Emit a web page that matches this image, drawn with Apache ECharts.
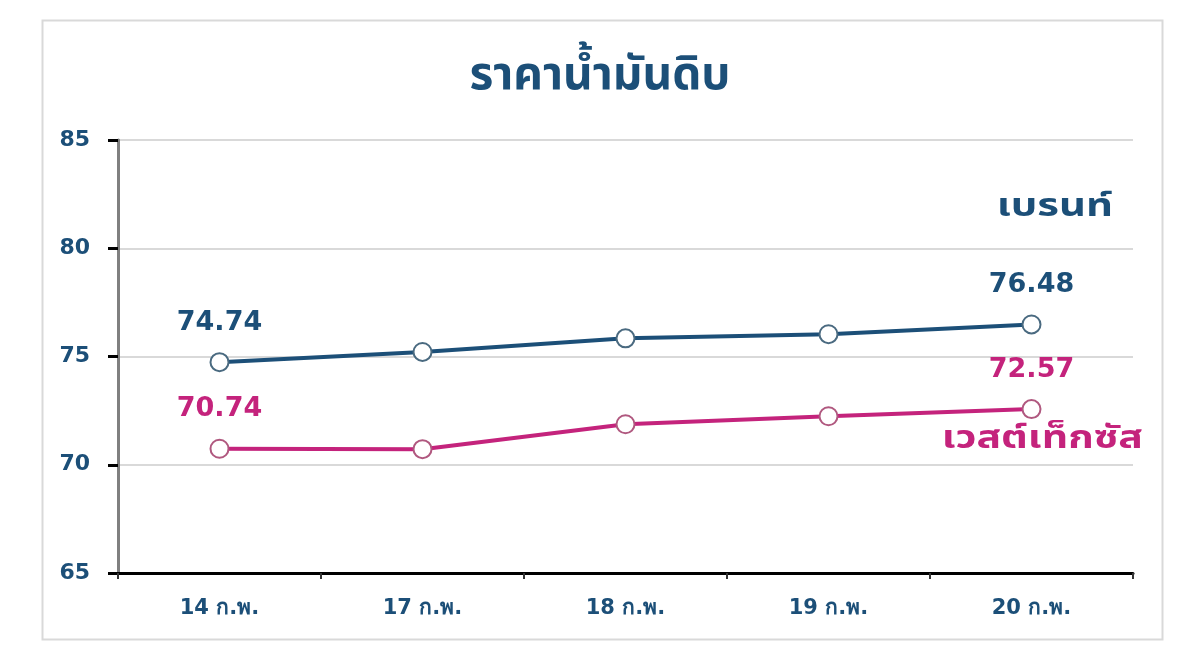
<!DOCTYPE html>
<html><head><meta charset="utf-8">
<script src="https://cdn.jsdelivr.net/npm/echarts@6/dist/echarts.min.js"></script>
<style>html,body{margin:0;padding:0;background:#fff}#c{width:1200px;height:662px}</style>
</head><body><div id="c"></div>
<script>
const categories = ['14 ก.พ.', '17 ก.พ.', '18 ก.พ.', '19 ก.พ.', '20 ก.พ.'];
const brent = [74.74, 75.21, 75.84, 76.03, 76.48];
const wti = [70.74, 70.72, 71.87, 72.24, 72.57];
const brentName = 'เบรนท์';
const wtiName = 'เวสต์เท็กซัส';
const titleText = 'ราคาน้ำมันดิบ';

const FONT = '"Noto Sans", "Noto Sans Thai", Tahoma, sans-serif';
const NUMFONT = '"DejaVu Sans", "Noto Sans", sans-serif';
const BLUE = '#1c4f78';
const PINK = '#c4237c';

function labeled(arr, color) {
  return arr.map((v, i) => {
    const show = i === 0 || i === arr.length - 1;
    return {
      value: v,
      label: {show: show, position: 'top', distance: 16, color: color,
        fontSize: 27, fontWeight: 'bold', fontFamily: NUMFONT,
        formatter: p => p.value.toFixed(2)}
    };
  });
}

const chart = echarts.init(document.getElementById('c'), null, {renderer: 'canvas'});
chart.setOption({
  backgroundColor: '#fff',
  animation: false,
  title: {text: titleText, left: 'center', top: 48,
    textStyle: {color: BLUE, fontSize: 46, fontWeight: 'bold', fontFamily: FONT}},
  grid: {left: 118, right: 67, top: 140, bottom: 89, containLabel: false},
  graphic: [
    {type: 'rect', left: 40, top: 18, shape: {width: 1120, height: 619},
      style: {fill: null, stroke: '#d9d9d9', lineWidth: 2}, z: -1},
    {type: 'text', x: 1113, y: 192, scaleX: 1.35, scaleY: 1,
      style: {text: brentName, fill: BLUE, align: 'right',
      font: 'bold 31px ' + FONT}},
    {type: 'text', x: 1143, y: 424, scaleX: 1.32, scaleY: 1,
      style: {text: wtiName, fill: PINK, align: 'right',
      font: 'bold 31px ' + FONT}}
  ],
  xAxis: {
    type: 'category', data: categories, boundaryGap: true,
    axisLine: {lineStyle: {color: '#000', width: 3}},
    axisTick: {show: true, length: 6, lineStyle: {color: '#333', width: 2}},
    axisLabel: {color: BLUE, fontSize: 21, fontWeight: 'bold', fontFamily: NUMFONT, margin: 25}
  },
  yAxis: {
    type: 'value', min: 65, max: 85, interval: 5,
    axisLine: {show: true, lineStyle: {color: '#808080', width: 3}},
    axisTick: {show: true, length: 10, inside: false, lineStyle: {color: '#000', width: 3}},
    axisLabel: {color: BLUE, fontSize: 22, fontWeight: 'bold', fontFamily: NUMFONT, margin: 28},
    splitLine: {show: true, lineStyle: {color: '#d9d9d9', width: 2}}
  },
  series: [
    {name: brentName, type: 'line', data: labeled(brent, BLUE),
      symbol: 'circle', symbolSize: 18,
      lineStyle: {color: BLUE, width: 4},
      itemStyle: {color: '#fff', borderColor: '#4a6a80', borderWidth: 2}},
    {name: wtiName, type: 'line', data: labeled(wti, PINK),
      symbol: 'circle', symbolSize: 18,
      lineStyle: {color: PINK, width: 4},
      itemStyle: {color: '#fff', borderColor: '#b0587f', borderWidth: 2}}
  ]
});
</script></body></html>
